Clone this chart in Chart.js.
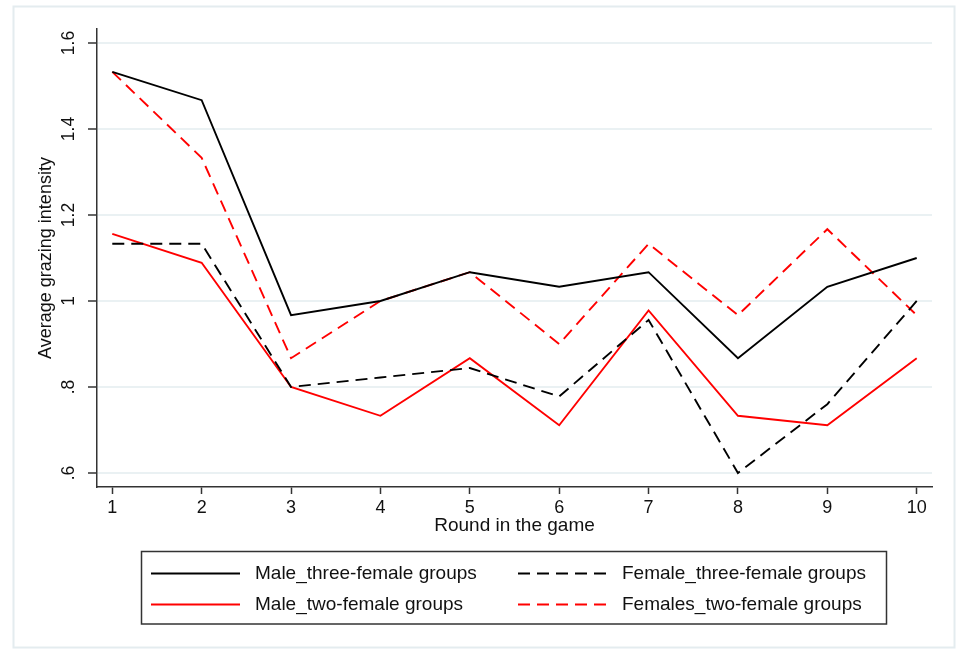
<!DOCTYPE html>
<html>
<head>
<meta charset="utf-8">
<script src="https://cdn.jsdelivr.net/npm/chart.js@4.4.1/dist/chart.umd.min.js"></script>
<style>
  html, body { margin: 0; padding: 0; background: #fff; }
</style>
</head>
<body>
<canvas id="chart" width="958" height="652"></canvas>
<script>
'use strict';

const rounds = [1, 2, 3, 4, 5, 6, 7, 8, 9, 10];
const maleThree = [1.533, 1.467, 0.967, 1.0, 1.067, 1.033, 1.067, 0.867, 1.033, 1.1];
const femaleThree = [1.133, 1.133, 0.8, 0.822, 0.844, 0.778, 0.956, 0.6, 0.76, 1.0];
const maleTwo = [1.156, 1.089, 0.8, 0.733, 0.867, 0.711, 0.978, 0.733, 0.711, 0.867];
const femaleTwo = [1.533, 1.333, 0.867, 1.0, 1.067, 0.9, 1.133, 0.967, 1.167, 0.967];
const yTicks = [0.6, 0.8, 1.0, 1.2, 1.4, 1.6];

const font = '"Liberation Sans", Arial, sans-serif';
const dash = [12, 7];

const points = vals => rounds.map((r, i) => ({ x: r, y: vals[i] }));

// stata style tick labels: 1, .8, 1.2
const fmtTick = v => {
    const s = (Math.round(v * 10) / 10).toString();
    return s.startsWith('0.') ? s.slice(1) : s;
};

const framePlugin = {
    id: 'frame',
    beforeDraw(chart) {
        const ctx = chart.ctx;
        ctx.save();
        ctx.fillStyle = '#fff';
        ctx.fillRect(0, 0, chart.width, chart.height);
        ctx.strokeStyle = '#e4ecef';
        ctx.lineWidth = 2;
        ctx.strokeRect(13.5, 6.5, 941, 641);
        ctx.restore();
    }
};

const boxLegend = {
    id: 'boxLegend',
    afterDraw(chart) {
        const ctx = chart.ctx;
        const cols = [151, 518];
        const rows = [573.5, 604.5];
        ctx.save();
        ctx.strokeStyle = '#333';
        ctx.lineWidth = 1.5;
        ctx.strokeRect(141.5, 551.5, 745, 72.5);
        ctx.font = '19px ' + font;
        ctx.textBaseline = 'middle';
        ctx.fillStyle = '#111';
        chart.data.datasets.forEach((ds, i) => {
            const x = cols[i % 2];
            const y = rows[Math.floor(i / 2)];
            ctx.beginPath();
            ctx.setLineDash(ds.borderDash || []);
            ctx.strokeStyle = ds.borderColor;
            ctx.lineWidth = ds.borderWidth;
            ctx.moveTo(x, y);
            ctx.lineTo(x + 89, y);
            ctx.stroke();
            ctx.setLineDash([]);
            ctx.fillText(ds.label, x + 104, y);
        });
        ctx.restore();
    }
};

new Chart(document.getElementById('chart'), {
    type: 'line',
    data: {
        datasets: [
            { label: 'Male_three-female groups', data: points(maleThree), borderColor: '#000', borderWidth: 1.9 },
            { label: 'Female_three-female groups', data: points(femaleThree), borderColor: '#000', borderWidth: 1.9, borderDash: dash },
            { label: 'Male_two-female groups', data: points(maleTwo), borderColor: '#ff0000', borderWidth: 1.9 },
            { label: 'Females_two-female groups', data: points(femaleTwo), borderColor: '#ff0000', borderWidth: 1.9, borderDash: dash }
        ]
    },
    options: {
        responsive: false,
        animation: false,
        layout: { padding: { top: 29, right: 26, bottom: 115, left: 20 } },
        elements: { point: { radius: 0 }, line: { tension: 0 } },
        plugins: { legend: { display: false }, tooltip: { enabled: false } },
        scales: {
            x: {
                type: 'linear',
                min: 0.829,
                max: 10.171,
                afterBuildTicks: s => { s.ticks = rounds.map(v => ({ value: v })); },
                afterFit: s => { s.height = 50; },
                grid: { drawOnChartArea: false, tickLength: 7, tickColor: '#333', tickWidth: 1.5 },
                border: { color: '#333', width: 1.5 },
                ticks: { color: '#111', font: { family: font, size: 18 }, padding: 3, maxRotation: 0, autoSkip: false },
                title: { display: true, text: 'Round in the game', color: '#111', font: { family: font, size: 19 }, padding: { top: 0, bottom: 0 } }
            },
            y: {
                min: 0.5674,
                max: 1.6326,
                afterBuildTicks: s => { s.ticks = yTicks.map(v => ({ value: v })); },
                afterFit: s => { s.width = 77; },
                grid: { color: '#eaf1f3', lineWidth: 2, tickLength: 9, tickColor: '#333', tickWidth: 1.5 },
                border: { color: '#333', width: 1.5 },
                ticks: {
                    color: '#111',
                    font: { family: font, size: 17.5 },
                    minRotation: 90,
                    maxRotation: 90,
                    crossAlign: 'center',
                    padding: 7,
                    callback: v => fmtTick(v)
                },
                title: { display: true, text: 'Average grazing intensity', color: '#111', font: { family: font, size: 18 }, padding: { top: 15, bottom: 0 } }
            }
        }
    },
    plugins: [framePlugin, boxLegend]
});
</script>
</body>
</html>
